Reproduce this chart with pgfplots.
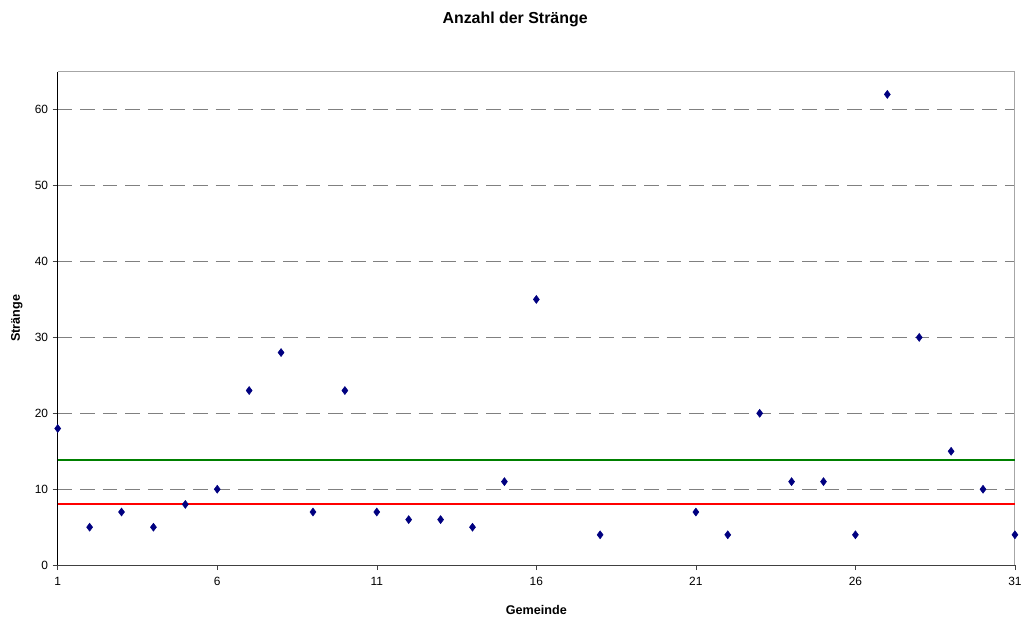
\documentclass[border=0pt]{standalone}
\usepackage{pgfplots}
\pgfplotsset{compat=1.18}
\usepackage{fontspec}
\setmainfont{Liberation Sans}
\definecolor{navy}{HTML}{000080}
\definecolor{xlgreen}{HTML}{008000}
\definecolor{gridgray}{HTML}{808080}

\begin{document}
\begin{tikzpicture}
\begin{axis}[
  scale only axis,
  width=721.5pt, height=372pt,
  xmin=1, xmax=31, ymin=0, ymax=65,
  xtick={1,6,11,16,21,26,31},
  ytick={0,10,20,30,40,50,60},
  axis x line*=bottom, axis y line*=left,
  x axis line style={draw=black!75, -},
  y axis line style={draw=black, -},
  tick align=outside, major tick length=3.75pt,
  tick style={black!75, thin},
  ymajorgrids,
  major grid style={gridgray, dash pattern=on 11pt off 6pt, line width=0.8pt},
  /pgf/number format/assume math mode=true,
  ticklabel style={font=\fontsize{9}{11}\selectfont},
  xticklabel style={yshift=-2pt},
  title={\textbf{Anzahl der Stränge}},
  title style={font=\fontsize{12}{14}\selectfont, at={(rel axis cs:0.5,1)}, anchor=center, yshift=33.5pt, xshift=-16pt},
  xlabel={\textbf{Gemeinde}},
  xlabel style={font=\fontsize{9.5}{11}\selectfont, at={(rel axis cs:0.5,0)}, anchor=center, yshift=-34pt},
  ylabel={\textbf{Stränge}},
  ylabel style={font=\fontsize{9.5}{11}\selectfont, at={(axis description cs:-0.0426,0.5)}, anchor=center},
  clip=false,
]
\draw[gray!70, line width=0.75pt] (rel axis cs:0,1) -- (rel axis cs:1,1) -- (rel axis cs:1,0);
\addplot[xlgreen, line width=1.5pt, forget plot] coordinates {(1,13.9) (31,13.9)};
\addplot[red, line width=1.5pt, forget plot] coordinates {(1,8) (31,8)};
\addplot[only marks, mark=diamond*, mark size=3pt, navy, mark options={fill=navy}] coordinates {
(1,18) (2,5) (3,7) (4,5) (5,8) (6,10) (7,23) (8,28) (9,7) (10,23)
(11,7) (12,6) (13,6) (14,5) (15,11) (16,35) (18,4)
(21,7) (22,4) (23,20) (24,11) (25,11) (26,4) (27,62) (28,30) (29,15) (30,10) (31,4)
};
\end{axis}
\path (current axis.south west) ++(-43.5pt,-39.75pt) coordinate (bl);
\path (current axis.north east) ++(4.5pt,54pt) coordinate (tr);
\path (bl) rectangle (tr);
\end{tikzpicture}
\end{document}
